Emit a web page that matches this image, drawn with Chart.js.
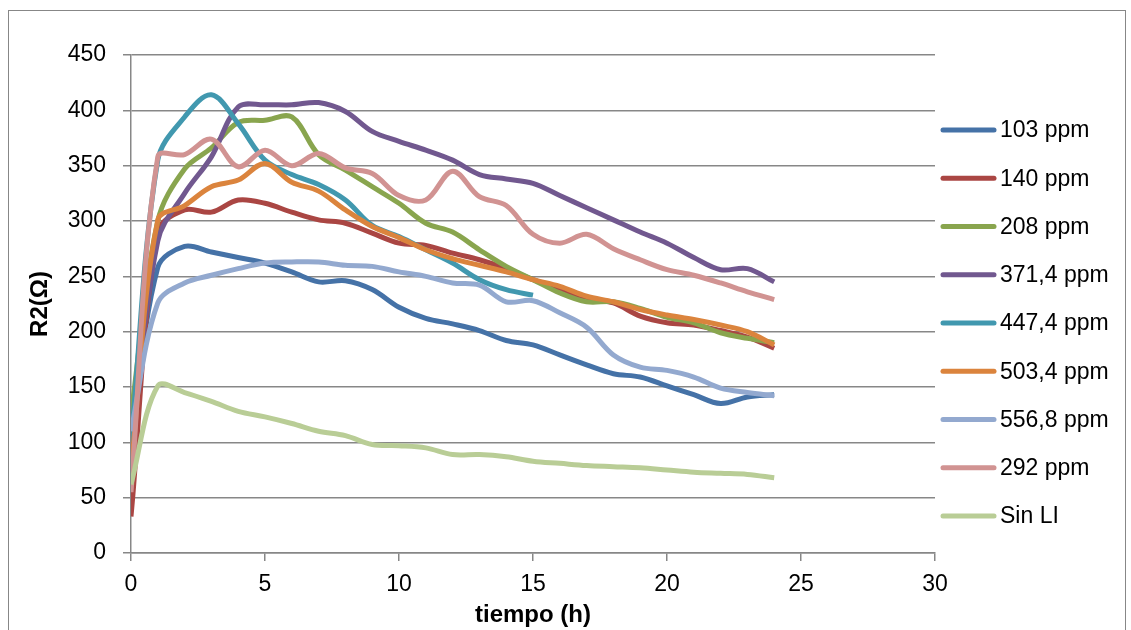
<!DOCTYPE html>
<html>
<head>
<meta charset="utf-8">
<script src="https://cdn.jsdelivr.net/npm/chart.js@4/dist/chart.umd.min.js"></script>
<style>
  html, body { margin: 0; padding: 0; background: #fff; }
</style>
</head>
<body>
<canvas id="line-chart" width="1131" height="630"></canvas>
<script>
// horas de medida
var hours = [0, 1, 2, 3, 4, 5, 6, 7, 8, 9, 10, 11, 12, 13, 14, 15, 16, 17, 18, 19, 20, 21, 22, 23, 24];
var hours447 = [0, 1, 2, 3, 4, 5, 6, 7, 8, 9, 10, 11, 12, 13, 14, 15];

var labels = ['103 ppm', '140 ppm', '208 ppm', '371,4 ppm', '447,4 ppm', '503,4 ppm', '556,8 ppm', '292 ppm', 'Sin LI'];

var r103 = [95, 258, 277, 272, 267, 262, 254, 245, 246, 238, 222, 212, 207, 201, 192, 188, 179, 170, 162, 159, 151, 143, 135, 141, 143];
var r140 = [33, 290, 310, 308, 319, 316, 308, 301, 298, 289, 280, 278, 271, 265, 257, 247, 239, 230, 226, 214, 208, 206, 201, 195, 185];
var r208 = [125, 300, 347, 366, 389, 391, 394, 360, 346, 331, 316, 298, 290, 274, 259, 247, 235, 227, 227, 221, 213, 208, 199, 194, 190];
var r371 = [90, 282, 325, 358, 403, 405, 405, 407, 399, 381, 372, 364, 355, 342, 338, 334, 323, 312, 301, 290, 280, 267, 256, 257, 245];
var r447 = [100, 355, 394, 414, 388, 355, 342, 333, 319, 296, 286, 274, 262, 247, 238, 233];
var r503 = [75, 301, 314, 331, 337, 352, 335, 327, 310, 295, 285, 274, 266, 260, 254, 247, 241, 232, 227, 220, 215, 211, 206, 200, 188];
var r556 = [110, 226, 244, 251, 257, 262, 263, 263, 260, 259, 254, 250, 244, 242, 227, 228, 217, 204, 179, 168, 165, 159, 149, 145, 142];
var r292 = [55, 358, 360, 374, 349, 364, 350, 361, 348, 343, 323, 319, 345, 322, 314, 288, 280, 288, 275, 265, 256, 251, 244, 236, 229];
var rSinLI = [62, 151, 145, 137, 128, 123, 117, 110, 106, 98, 97, 95, 89, 89, 87, 83, 81, 79, 78, 77, 75, 73, 72, 71, 68];

var xTicks = [0, 5, 10, 15, 20, 25, 30];
var yTicks = [0, 50, 100, 150, 200, 250, 300, 350, 400, 450];

var colorArray = ['#4572A7', '#AA4643', '#89A54E', '#71588F', '#4198AF', '#DB843D', '#93A9CF', '#D19392', '#B9CD96'];

var series = [r103, r140, r208, r371, r447, r503, r556, r292, rSinLI];

function toPoints(xs, ys) {
  var out = [];
  for (var i = 0; i < ys.length; i++) {
    out.push({ x: xs[i], y: ys[i] });
  }
  return out;
}

var datasets_data = [];
for (var i = 0; i < series.length; i++) {
  datasets_data.push({
    label: labels[i],
    data: toPoints(i === 4 ? hours447 : hours, series[i]),
    borderColor: colorArray[i],
    backgroundColor: colorArray[i],
    borderWidth: 5,
    pointRadius: 0,
    tension: 0.35,
    fill: false,
    order: -i   // las últimas series encima, como en Excel
  });
}

var FONT = '"Liberation Sans", Arial, sans-serif';

// marco y leyenda a mano
var framePlugin = {
  id: 'frame',
  beforeDraw: function (chart) {
    var ctx = chart.ctx;
    ctx.save();
    ctx.fillStyle = '#fff';
    ctx.fillRect(0, 0, chart.width, chart.height);
    ctx.strokeStyle = '#878787';
    ctx.lineWidth = 1;
    ctx.strokeRect(8.5, 10.5, 1117, 640);
    ctx.restore();
  },
  afterDraw: function (chart) {
    var ctx = chart.ctx;
    ctx.save();
    ctx.font = '23px ' + FONT;
    ctx.textBaseline = 'middle';
    ctx.lineCap = 'round';
    for (var i = 0; i < labels.length; i++) {
      var y = 130 + i * 48.25;
      ctx.strokeStyle = colorArray[i];
      ctx.lineWidth = 5;
      ctx.beginPath();
      ctx.moveTo(943, y);
      ctx.lineTo(994, y);
      ctx.stroke();
      ctx.fillStyle = '#000';
      ctx.fillText(labels[i], 1000, y + 1);
    }
    ctx.restore();
  }
};

new Chart(document.getElementById('line-chart'), {
  type: 'line',
  data: { datasets: datasets_data },
  plugins: [framePlugin],
  options: {
    responsive: false,
    animation: false,
    layout: { padding: { top: 55, right: 196, left: 0, bottom: 0 } },
    plugins: {
      legend: { display: false },
      tooltip: { enabled: false }
    },
    scales: {
      x: {
        type: 'linear',
        min: 0,
        max: 30,
        afterFit: function (scale) { scale.height = 77; },
        afterBuildTicks: function (scale) {
          scale.ticks = xTicks.map(function (v) { return { value: v }; });
        },
        ticks: { color: '#000', font: { family: FONT, size: 23 }, padding: 10, maxRotation: 0 },
        grid: { drawOnChartArea: false, drawTicks: true, tickLength: 8, color: '#878787', lineWidth: 1.5 },
        border: { display: true, color: '#878787', width: 1.5 },
        title: {
          display: true,
          text: 'tiempo (h)',
          color: '#000',
          font: { family: FONT, size: 24, weight: 'bold' },
          padding: { top: 0, bottom: 0 }
        }
      },
      y: {
        min: 0,
        max: 450,
        afterFit: function (scale) { scale.width = 131; },
        afterBuildTicks: function (scale) {
          scale.ticks = yTicks.map(function (v) { return { value: v }; });
        },
        ticks: { color: '#000', font: { family: FONT, size: 23 }, padding: 17 },
        grid: { drawOnChartArea: true, drawTicks: true, tickLength: 8, color: '#878787', lineWidth: 1.5 },
        border: { display: true, color: '#878787', width: 1.5 },
        title: {
          display: true,
          text: 'R2(Ω)',
          color: '#000',
          font: { family: FONT, size: 24, weight: 'bold' },
          padding: { top: 26, bottom: 0 }
        }
      }
    }
  }
});
</script>
</body>
</html>
